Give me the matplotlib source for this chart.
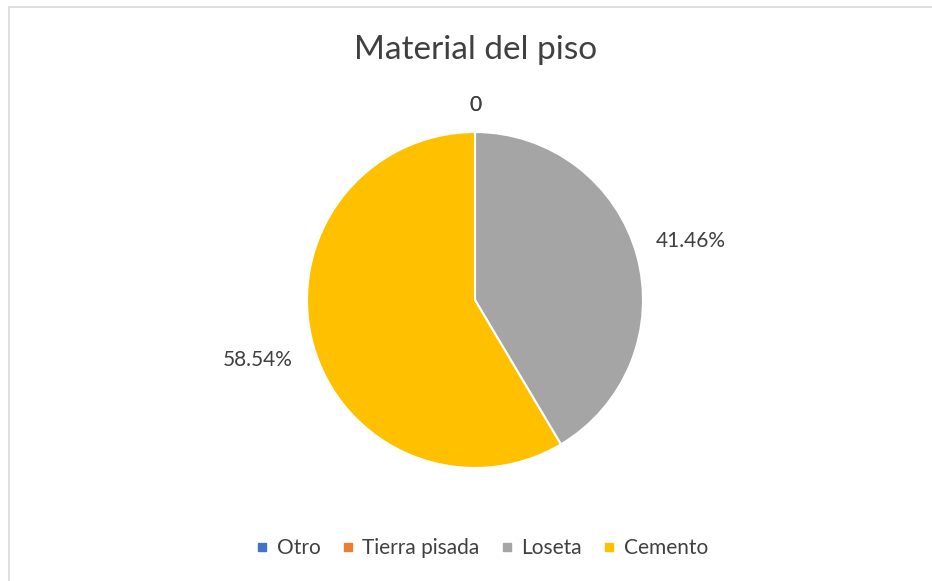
import matplotlib
matplotlib.use("Agg")
import matplotlib.pyplot as plt
from matplotlib.lines import Line2D
import numpy as np

plt.rcParams['font.family'] = ['Lato', 'DejaVu Sans']

categories = ["Otro", "Tierra pisada", "Loseta", "Cemento"]
values = [0, 0, 41.46, 58.54]
labels = ["0", "0", "41.46%", "58.54%"]
colors = ["#4472C4", "#ED7D31", "#A5A5A5", "#FFC000"]

W, H = 932, 581
fig = plt.figure(figsize=(W / 100, H / 100), dpi=100)
fig.patch.set_facecolor("white")

# thin chart-area border (left and top edges visible)
fig.add_artist(plt.Rectangle((9 / W, -0.1), 1.2, (H - 7) / H + 0.1,
                             transform=fig.transFigure, fill=False,
                             edgecolor="#D9D9D9", linewidth=1.2))

cx, cy, r = 475, 300, 168
ax = fig.add_axes([(cx - r) / W, (H - cy - r) / H, 2 * r / W, 2 * r / H])
wedges, _ = ax.pie(values, colors=colors, startangle=90, counterclock=False,
                   radius=1, wedgeprops=dict(edgecolor="white", linewidth=1.5))
ax.set_xlim(-1, 1); ax.set_ylim(-1, 1); ax.set_aspect("equal"); ax.axis("off")

dist = {"0": 1.16, "41.46%": 1.33, "58.54%": 1.34}
seen = set()
for w, lab in zip(wedges, labels):
    ang = np.deg2rad((w.theta1 + w.theta2) / 2)
    key = (round(ang, 3), lab)
    if key in seen:
        continue
    seen.add(key)
    d = dist[lab]
    ax.text(d * np.cos(ang), d * np.sin(ang), lab, ha="center", va="center",
            fontsize=15, color="#404040", clip_on=False)

fig.text(476 / W, 1 - 50 / H, "Material del piso", ha="center", va="center",
         fontsize=24, color="#404040")

handles = [Line2D([0], [0], marker="s", linestyle="none", markersize=6,
                  markerfacecolor=c, markeredgecolor=c) for c in colors]
fig.legend(handles, categories, loc="center", bbox_to_anchor=(482 / W, 1 - 548 / H),
           ncol=4, frameon=False, fontsize=15, handlelength=0.6, handletextpad=0.4,
           columnspacing=1.0, labelcolor="#404040")

fig.savefig("out.png", dpi=100, facecolor="white")
